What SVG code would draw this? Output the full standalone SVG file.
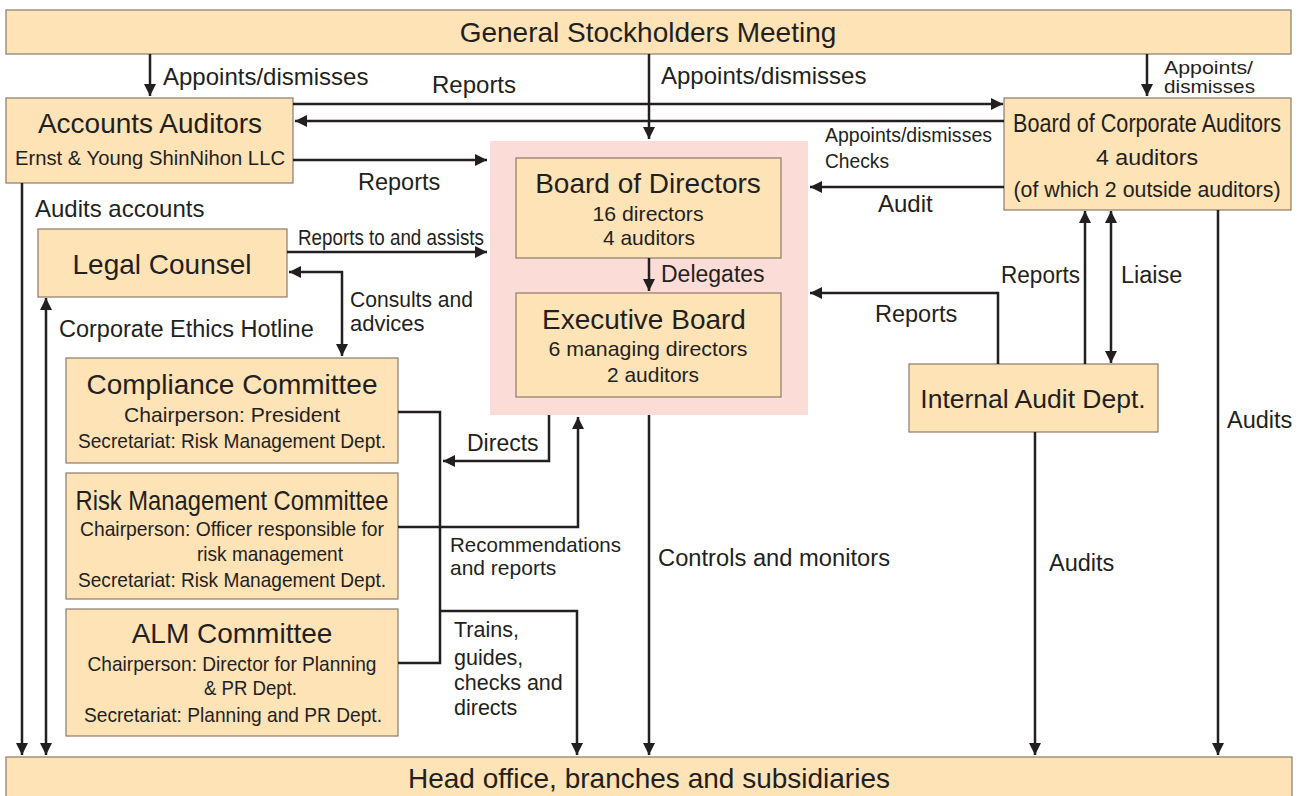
<svg xmlns="http://www.w3.org/2000/svg" width="1306" height="796" viewBox="0 0 1306 796">
  <style>
    .box { fill: #fee3b7; stroke: #8a7a6a; stroke-width: 1.2; }
    .zone { fill: #fcdcd7; }
    text { font-family: "Liberation Sans", Arial, sans-serif; fill: #231f20; }
    .t28 { font-size: 28px; text-anchor: middle; }
    .t21 { font-size: 21px; text-anchor: middle; }
    .lbl { font-size: 23.5px; }
    .sm { font-size: 21px; }
    .wire { fill: none; stroke: #231f20; stroke-width: 2.5; }
    .arr { marker-end: url(#head); }
    .both { marker-start: url(#head); marker-end: url(#head); }
  </style>
  <defs>
    <marker id="head" viewBox="0 0 12 12" refX="12" refY="6" markerWidth="12" markerHeight="12" markerUnits="userSpaceOnUse" orient="auto-start-reverse">
      <path d="M0,0 L12,6 L0,12 z" fill="#231f20"/>
    </marker>
  </defs>
  <rect width="1306" height="796" fill="#ffffff"/>

  <!-- shaded area behind the two boards -->
  <rect class="zone" x="490" y="141" width="318" height="274"/>

  <g id="stockholders">
    <rect class="box" x="6" y="10" width="1285" height="44"/>
    <text class="t28" x="648" y="42">General Stockholders Meeting</text>
  </g>

  <g id="head-office">
    <rect class="box" x="6" y="757" width="1286" height="45"/>
    <text class="t28" x="649" y="788">Head office, branches and subsidiaries</text>
  </g>

  <g id="accounts-auditors">
    <rect class="box" x="6" y="98" width="287" height="85"/>
    <text class="t28" x="150" y="133">Accounts Auditors</text>
    <text class="t21" x="150" y="165" textLength="270" lengthAdjust="spacingAndGlyphs">Ernst &amp; Young ShinNihon LLC</text>
  </g>

  <g id="legal-counsel">
    <rect class="box" x="38" y="229" width="249" height="68"/>
    <text class="t28" x="162" y="274">Legal Counsel</text>
  </g>

  <g id="compliance-committee">
    <rect class="box" x="66" y="358" width="332" height="105"/>
    <text class="t28" x="232" y="394">Compliance Committee</text>
    <text class="t21" x="232" y="422" textLength="216" lengthAdjust="spacingAndGlyphs">Chairperson: President</text>
    <text class="t21" x="232" y="448" textLength="308" lengthAdjust="spacingAndGlyphs">Secretariat: Risk Management Dept.</text>
  </g>

  <g id="risk-management-committee">
    <rect class="box" x="66" y="473" width="332" height="126"/>
    <text class="t28" x="232" y="510" textLength="313" lengthAdjust="spacingAndGlyphs">Risk Management Committee</text>
    <text class="t21" x="232" y="536" textLength="304" lengthAdjust="spacingAndGlyphs">Chairperson: Officer responsible for</text>
    <text class="sm" x="197" y="561" textLength="146" lengthAdjust="spacingAndGlyphs">risk management</text>
    <text class="t21" x="232" y="587" textLength="308" lengthAdjust="spacingAndGlyphs">Secretariat: Risk Management Dept.</text>
  </g>

  <g id="alm-committee">
    <rect class="box" x="66" y="609" width="332" height="127"/>
    <text class="t28" x="232" y="643">ALM Committee</text>
    <text class="t21" x="232" y="671" textLength="289" lengthAdjust="spacingAndGlyphs">Chairperson: Director for Planning</text>
    <text class="sm" x="204" y="695" textLength="93" lengthAdjust="spacingAndGlyphs">&amp; PR Dept.</text>
    <text class="t21" x="233" y="722" textLength="298" lengthAdjust="spacingAndGlyphs">Secretariat: Planning and PR Dept.</text>
  </g>

  <g id="board-of-directors">
    <rect class="box" x="516" y="158" width="265" height="100"/>
    <text class="t28" x="648" y="193">Board of Directors</text>
    <text class="t21" x="648" y="221" textLength="111" lengthAdjust="spacingAndGlyphs">16 directors</text>
    <text class="t21" x="649" y="245" textLength="92" lengthAdjust="spacingAndGlyphs">4 auditors</text>
  </g>

  <g id="executive-board">
    <rect class="box" x="516" y="293" width="265" height="104"/>
    <text class="t28" x="644" y="329">Executive Board</text>
    <text class="t21" x="648" y="356" textLength="199" lengthAdjust="spacingAndGlyphs">6 managing directors</text>
    <text class="t21" x="653" y="382" textLength="92" lengthAdjust="spacingAndGlyphs">2 auditors</text>
  </g>

  <g id="corporate-auditors">
    <rect class="box" x="1004" y="98" width="287" height="112"/>
    <!-- narrow title: scaled horizontally to fit the box -->
    <text class="t28" transform="translate(1147,132) scale(0.865,1)" style="font-size:25px">Board of Corporate Auditors</text>
    <text class="t21" x="1147" y="165" style="font-size:22px" textLength="102" lengthAdjust="spacingAndGlyphs">4 auditors</text>
    <text class="t21" x="1147" y="197" style="font-size:22px" textLength="267" lengthAdjust="spacingAndGlyphs">(of which 2 outside auditors)</text>
  </g>

  <g id="internal-audit">
    <rect class="box" x="909" y="364" width="249" height="68"/>
    <text class="t28" x="1033" y="408" style="font-size:26.5px">Internal Audit Dept.</text>
  </g>

  <g id="connectors">
    <path class="wire arr" d="M150,54 V96"/>
    <path class="wire arr" d="M293,104 H1003"/>
    <path class="wire arr" d="M1004,121 H295"/>
    <path class="wire arr" d="M293,160 H487"/>
    <path class="wire arr" d="M649,54 V139"/>
    <path class="wire arr" d="M1147,54 V96"/>
    <path class="wire arr" d="M1004,187 H810"/>
    <path class="wire arr" d="M287,252 H487"/>
    <path class="wire both" d="M289,272 H342 V356"/>
    <path class="wire both" d="M46,755 V298"/>
    <path class="wire arr" d="M22,183 V755"/>
    <path class="wire arr" d="M649,258 V291"/>
    <path class="wire arr" d="M998,364 V293 H810"/>
    <path class="wire arr" d="M1085,364 V211"/>
    <path class="wire both" d="M1111,211 V363"/>
    <path class="wire arr" d="M1218,210 V755"/>
    <path class="wire arr" d="M1035,432 V755"/>
    <path class="wire arr" d="M649,415 V755"/>
    <path class="wire" d="M398,412 H440 V663 H398"/>
    <path class="wire arr" d="M398,527 H578 V417"/>
    <path class="wire arr" d="M549,415 V461 H443"/>
    <path class="wire arr" d="M440,611 H577 V755"/>

    <!-- connector labels -->
    <text class="lbl" x="163" y="85" style="font-size:24px">Appoints/dismisses</text>
    <text class="lbl" x="432" y="93" style="font-size:24px">Reports</text>
    <text class="lbl" x="661" y="84" style="font-size:24px">Appoints/dismisses</text>
    <text class="sm" x="1164" y="74" style="font-size:19px" textLength="89" lengthAdjust="spacingAndGlyphs">Appoints/</text>
    <text class="sm" x="1164" y="93" style="font-size:19px" textLength="91" lengthAdjust="spacingAndGlyphs">dismisses</text>
    <text class="sm" x="825" y="142" textLength="167" lengthAdjust="spacingAndGlyphs">Appoints/dismisses</text>
    <text class="sm" x="825" y="168" textLength="64" lengthAdjust="spacingAndGlyphs">Checks</text>
    <text class="lbl" x="358" y="190">Reports</text>
    <text class="lbl" x="878" y="212" style="font-size:24px">Audit</text>
    <text class="lbl" x="35" y="217" style="font-size:24px">Audits accounts</text>
    <text class="sm" x="298" y="245" style="font-size:22px" textLength="186" lengthAdjust="spacingAndGlyphs">Reports to and assists</text>
    <text class="sm" x="350" y="307" style="font-size:22px" textLength="123" lengthAdjust="spacingAndGlyphs">Consults and</text>
    <text class="sm" x="350" y="331" style="font-size:22px">advices</text>
    <text class="lbl" x="59" y="337">Corporate Ethics Hotline</text>
    <text class="lbl" x="661" y="282" style="font-size:23px">Delegates</text>
    <text class="lbl" x="875" y="322">Reports</text>
    <text class="lbl" x="1001" y="283" textLength="79" lengthAdjust="spacingAndGlyphs">Reports</text>
    <text class="lbl" x="1121" y="283">Liaise</text>
    <text class="lbl" x="1227" y="428">Audits</text>
    <text class="lbl" x="1049" y="571">Audits</text>
    <text class="lbl" x="467" y="451" style="font-size:23px">Directs</text>
    <text class="sm" x="450" y="552" textLength="171" lengthAdjust="spacingAndGlyphs">Recommendations</text>
    <text class="sm" x="450" y="575">and reports</text>
    <text class="lbl" x="658" y="566" textLength="232" lengthAdjust="spacingAndGlyphs">Controls and monitors</text>
    <text class="sm" x="454" y="637" style="font-size:21.5px">Trains,</text>
    <text class="sm" x="454" y="665" style="font-size:21.5px">guides,</text>
    <text class="sm" x="454" y="690" style="font-size:21.5px">checks and</text>
    <text class="sm" x="454" y="715" style="font-size:21.5px">directs</text>
  </g>
</svg>
